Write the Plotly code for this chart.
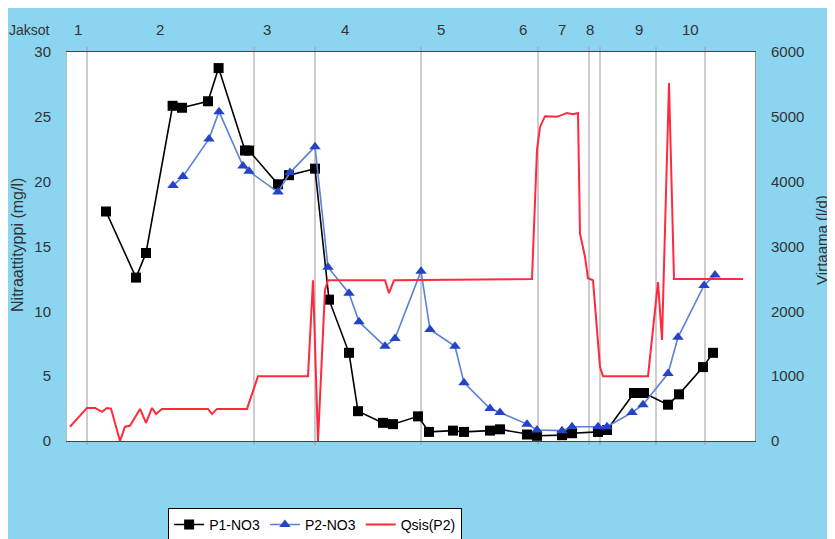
import plotly.graph_objects as go

# ---- data (x = day of the monitoring period) ----
p1_day = [19.5, 34.5, 39.5, 52.8, 57.5, 70.5, 75.8, 89, 91, 105.5, 111, 124, 131, 141, 145.5, 158, 163,
          175.5, 181, 193, 198.5, 211.5, 216.5, 230, 235, 247.5, 252.5, 265.5, 270, 283.5, 288.5, 300.5,
          306, 318, 323]
p1_no3 = [17.7, 12.6, 14.5, 25.85, 25.7, 26.2, 28.76, 22.4, 22.4, 19.8, 20.5, 21.0, 10.9, 6.8, 2.3, 1.4, 1.3,
          1.9, 0.7, 0.8, 0.7, 0.8, 0.9, 0.5, 0.4, 0.45, 0.6, 0.7, 0.85, 3.7, 3.7, 2.8,
          3.6, 5.7, 6.8]

p2_day = [53, 58, 71, 76, 88, 91, 105.5, 111.5, 124, 130.5, 141, 146, 159, 164, 177, 181.5, 194, 198.5,
          211.5, 216.5, 230, 235, 247.5, 252.5, 265.5, 270, 282.5, 288, 300.5, 305.5, 318.5, 324]
p2_no3 = [19.7, 20.4, 23.3, 25.4, 21.2, 20.8, 19.2, 20.7, 22.7, 13.4, 11.4, 9.2, 7.3, 7.9, 13.1, 8.6, 7.3, 4.5,
          2.5, 2.2, 1.3, 0.85, 0.8, 1.1, 1.1, 1.1, 2.2, 2.8, 5.2, 8.0, 12.0, 12.8]

q_day = [1.5, 10, 14, 17.5, 20, 22, 26.5, 29, 31.5, 36.5, 39.5, 42.5, 44.5, 47.5, 70.5, 72.5, 75, 90,
         95.5, 120.5, 123, 125.5, 129, 130.5, 159, 161, 163.5, 232.5, 235, 236.5, 239, 242.5, 245, 250,
         253, 255.5, 256.5, 259, 260.5, 263, 266.5, 268, 290.5, 295.5, 297.5, 301, 303.5, 338]
q_flow = [220, 510, 510, 450, 510, 500, 0, 220, 235, 495, 280, 510, 415, 495, 495, 415, 495, 495,
          1000, 1000, 2480, 0, 2330, 2480, 2480, 2280, 2480, 2500, 4490, 4840, 5010, 5010, 5000, 5060,
          5040, 5060, 3200, 2840, 2510, 2480, 1140, 1000, 1000, 2450, 1560, 5520, 2500, 2500]

period_bounds = [10, 93.5, 124, 177, 235.5, 261, 266.5, 294.5, 319]
period_labels = ["1", "2", "3", "4", "5", "6", "7", "8", "9", "10"]
period_label_day = [5.5, 46.5, 100, 139, 187, 228, 247.5, 261.5, 286, 311.5]

FONT = "Arial, Liberation Sans, sans-serif"
TXT = "#333333"
BG = "#8bd5f1"

fig = go.Figure()
fig.add_trace(go.Scatter(x=p1_day, y=p1_no3, name="P1-NO3", mode="lines+markers",
                         line=dict(color="black", width=1.6),
                         marker=dict(symbol="square", size=10, color="black")))
fig.add_trace(go.Scatter(x=p2_day, y=p2_no3, name="P2-NO3", mode="lines+markers",
                         line=dict(color="#5d7fd6", width=1.6),
                         marker=dict(symbol="triangle-up", size=10, color="#2444c8")))
fig.add_trace(go.Scatter(x=q_day, y=q_flow, name="Qsis(P2)", mode="lines", yaxis="y2",
                         line=dict(color="#ff2a3c", width=2)))

shapes = []
for b in period_bounds:
    shapes.append(dict(type="line", xref="x", yref="paper", x0=b, x1=b, y0=-0.01, y1=1.013,
                       line=dict(color="#9a9a9a", width=1), layer="below"))

annotations = []
for lab, d in zip(period_labels, period_label_day):
    annotations.append(dict(x=d, xref="x", y=1.0566, yref="paper", text=lab, showarrow=False,
                            xanchor="center", yanchor="middle",
                            font=dict(size=15, color=TXT, family=FONT)))
annotations.append(dict(x=-0.0538, xref="paper", y=1.0566, yref="paper", text="Jaksot", showarrow=False,
                        xanchor="center", yanchor="middle",
                        font=dict(size=14, color=TXT, family=FONT)))
annotations.append(dict(x=-0.0712, xref="paper", y=0.504, yref="paper", text="Nitraattityppi (mg/l)",
                        textangle=-90, showarrow=False, xanchor="center", yanchor="middle",
                        font=dict(size=16, color=TXT, family=FONT)))
annotations.append(dict(x=1.0974, xref="paper", y=0.517, yref="paper", text="Virtaama (l/d)",
                        textangle=-90, showarrow=False, xanchor="center", yanchor="middle",
                        font=dict(size=15, color=TXT, family=FONT)))

fig.update_layout(
    width=835, height=539,
    margin=dict(l=59, r=88, t=44, b=106, autoexpand=False),
    paper_bgcolor=BG, plot_bgcolor="white",
    font=dict(family=FONT, size=15, color=TXT),
    showlegend=True,
    legend=dict(orientation="h", x=0.147, xanchor="left", y=-0.172, yanchor="top",
                bgcolor="white", bordercolor="black", borderwidth=1,
                font=dict(size=14, color="black", family=FONT),
                itemwidth=30, tracegroupgap=0),
    xaxis=dict(range=[0, 344], showticklabels=False, ticks="", showgrid=False, zeroline=False,
               showline=True, linecolor="#444444", linewidth=1, mirror=True, automargin=False),
    yaxis=dict(range=[0, 30], dtick=5, showgrid=False, zeroline=False, ticks="",
               ticklabelstandoff=12, showline=True, linecolor="#bbbbbb", linewidth=1,
               tickfont=dict(size=15, color=TXT), automargin=False),
    yaxis2=dict(range=[0, 6000], dtick=1000, overlaying="y", side="right", showgrid=False,
                zeroline=False, ticks="", ticklabelstandoff=12, showline=True,
                linecolor="#999999", linewidth=1, tickfont=dict(size=15, color=TXT),
                automargin=False),
    shapes=shapes, annotations=annotations,
)

fig.write_html("out.html")
